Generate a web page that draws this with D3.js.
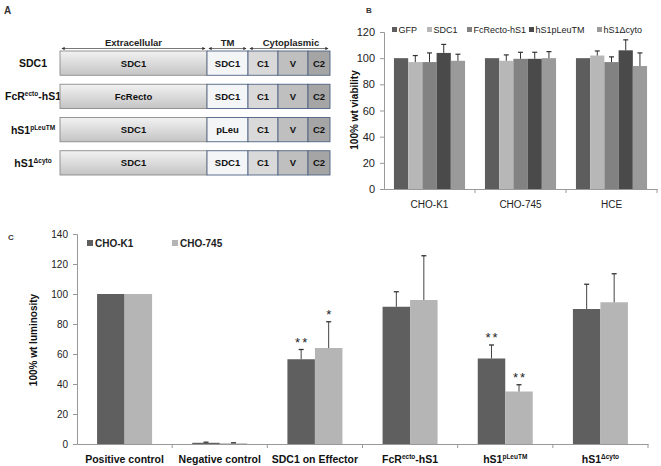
<!DOCTYPE html>
<html><head><meta charset="utf-8">
<script src="https://cdn.jsdelivr.net/npm/d3@7"></script>
<style>
html,body{margin:0;padding:0;background:#fff;}
text{font-family:"Liberation Sans",Arial,sans-serif;}
</style></head>
<body><svg id="fig" width="661" height="466"></svg>
<script>
// ---------- Panel A data ----------
const constructNames = ["SDC1", "FcR{ecto}-hS1", "hS1{pLeuTM}", "hS1{Δcyto}"];
const ectoLabels = ["SDC1", "FcRecto", "SDC1", "SDC1"];
const tmLabels = ["SDC1", "SDC1", "pLeu", "SDC1"];
const cytoLabels = ["C1", "V", "C2"];
const regionNames = ["Extracellular", "TM", "Cytoplasmic"];
const segmentUnits = [147, 41, 30, 30, 22]; // relative domain lengths: ecto, TM, C1, V, C2

// ---------- Panel B data ----------
const cellLinesB = ["CHO-K1", "CHO-745", "HCE"];
const seriesB = ["GFP", "SDC1", "FcRecto-hS1", "hS1pLeuTM", "hS1Δcyto"];
const valuesB = [
  [100, 97, 97, 104, 98],
  [100, 98, 99.5, 99.5, 100],
  [100, 102, 97, 106, 94]
];
const errorsB = [
  [0, 5, 7, 6.5, 5],
  [0, 4.5, 5, 5, 5],
  [0, 3.5, 4, 8, 10]
];
const ticksB = [0, 20, 40, 60, 80, 100, 120];

// ---------- Panel C data ----------
const categoriesC = ["Positive control", "Negative control", "SDC1 on Effector", "FcR{ecto}-hS1", "hS1{pLeuTM}", "hS1{Δcyto}"];
const seriesC = ["CHO-K1", "CHO-745"];
const valuesK1 = [100, 0.8, 56.5, 91.5, 57, 90];
const errorsK1 = [0, 0.4, 6.5, 10, 9, 16.5];
const values745 = [100, 0.5, 64, 96, 35, 94.5];
const errors745 = [0, 0.3, 17.5, 29.5, 4.5, 19];
const starsK1 = ["", "", "**", "", "**", ""];
const stars745 = ["", "", "*", "", "**", ""];
const ticksC = [0, 20, 40, 60, 80, 100, 120, 140];

const svg = d3.select("#fig");
const font = '"Liberation Sans",Arial,sans-serif';

// helper: text with {superscript}
function richText(sel, str, supSize) {
  const parts = str.split(/(\{[^}]*\})/).filter(s => s.length);
  parts.forEach(p => {
    if (p.startsWith("{")) {
      sel.append("tspan").attr("font-size", supSize).attr("dy", -4).text(p.slice(1, -1));
    } else {
      const t = sel.append("tspan").text(p);
      if (sel.selectAll("tspan").size() > 1) t.attr("dy", 4);
    }
  });
}

// ================= Panel A =================
{
  const g = svg.append("g");
  g.append("text").attr("x", 4).attr("y", 14).attr("font-size", 10).attr("font-weight", "bold").attr("fill", "#333").text("A");

  const cum = [0]; segmentUnits.forEach((u, i) => cum.push(cum[i] + u));
  const xA = d3.scaleLinear().domain([0, cum[cum.length - 1]]).range([60, 330]);
  const yA = d3.scaleBand().domain(constructNames).range([51, 175]).paddingInner(0.27).paddingOuter(0);

  const defs = svg.append("defs");
  const grad = defs.append("linearGradient").attr("id", "ectoGrad").attr("x1", 0).attr("y1", 0).attr("x2", 0).attr("y2", 1);
  grad.append("stop").attr("offset", "0%").attr("stop-color", "#f2f2f2");
  grad.append("stop").attr("offset", "100%").attr("stop-color", "#c4c4c4");
  const ag = defs.append("marker").attr("id", "arr").attr("viewBox", "0 0 6 6").attr("refX", 5).attr("refY", 3)
    .attr("markerWidth", 4).attr("markerHeight", 4).attr("orient", "auto-start-reverse");
  ag.append("path").attr("d", "M0,0 L6,3 L0,6 z").attr("fill", "#333");

  // region headers
  const regionSpans = [[cum[0], cum[1]], [cum[1], cum[2]], [cum[2], cum[5]]];
  regionSpans.forEach((s, i) => {
    const x0 = xA(s[0]) + 2, x1 = xA(s[1]) - 2;
    g.append("line").attr("x1", x0).attr("x2", x1).attr("y1", 48.5).attr("y2", 48.5)
      .attr("stroke", "#555").attr("stroke-width", 0.8)
      .attr("marker-start", "url(#arr)").attr("marker-end", "url(#arr)");
    g.append("text").attr("x", (x0 + x1) / 2 + (i === 2 ? 2 : 0)).attr("y", 45.5).attr("text-anchor", "middle")
      .attr("font-size", 9.5).attr("font-weight", "bold").attr("fill", "#222").text(regionNames[i]);
  });

  const segFills = ["url(#ectoGrad)", "#f3f5f7", "#d9d9d9", "#bfbfbf", "#a5a5a5"];
  constructNames.forEach((name, r) => {
    const y0 = yA(name), h = yA.bandwidth();
    const lab = g.append("text").attr("x", 33).attr("y", y0 + h / 2 + 4).attr("text-anchor", "middle")
      .attr("font-size", 10.5).attr("font-weight", "bold").attr("fill", "#111");
    richText(lab, name, 6.5);
    const labs = [ectoLabels[r], tmLabels[r]].concat(cytoLabels);
    for (let s = 0; s < 5; s++) {
      g.append("rect").attr("x", xA(cum[s])).attr("y", y0).attr("width", xA(cum[s + 1]) - xA(cum[s])).attr("height", h)
        .attr("fill", segFills[s]).attr("stroke", s === 0 ? "#8a8a8a" : "#4f6283").attr("stroke-width", 0.9);
      g.append("text").attr("x", (xA(cum[s]) + xA(cum[s + 1])) / 2).attr("y", y0 + h / 2 + 3.5)
        .attr("text-anchor", "middle").attr("font-size", 9.5).attr("font-weight", "bold").attr("fill", "#111").text(labs[s]);
    }
  });
}

// ================= Panel B =================
{
  const g = svg.append("g");
  g.append("text").attr("x", 366).attr("y", 13).attr("font-size", 8).attr("font-weight", "bold").attr("fill", "#333").text("B");
  const x0 = d3.scaleBand().domain(cellLinesB).range([384, 657]).padding(0);
  const x1 = d3.scaleBand().domain(seriesB).range([0, x0.bandwidth()]).paddingInner(0).paddingOuter(0.7);
  const y = d3.scaleLinear().domain([0, 120]).range([189, 32]);
  const colB = d3.scaleOrdinal().domain(seriesB).range(["#5d5d5d", "#b7b7b7", "#828282", "#4a4a4a", "#9a9a9a"]);

  const ya = g.append("g").attr("transform", "translate(384,0)")
    .call(d3.axisLeft(y).tickValues(ticksB).tickSize(4).tickPadding(5));
  ya.select(".domain").attr("stroke", "#999");
  ya.selectAll(".tick line").attr("stroke", "#999");
  ya.selectAll("text").attr("font-size", 11).attr("font-family", font).attr("fill", "#222");

  const xa = g.append("g").attr("transform", "translate(0,189)")
    .call(d3.axisBottom(x0).tickSize(0).tickPadding(12));
  xa.select(".domain").attr("stroke", "#999");
  xa.selectAll("text").attr("font-size", 10).attr("font-family", font).attr("fill", "#222");
  // category boundary ticks
  cellLinesB.forEach((c, i) => {
    const xb = x0(c) + x0.bandwidth();
    g.append("line").attr("x1", xb).attr("x2", xb).attr("y1", 189).attr("y2", 193).attr("stroke", "#999");
  });

  cellLinesB.forEach((c, ci) => {
    seriesB.forEach((s, si) => {
      const v = valuesB[ci][si], e = errorsB[ci][si];
      const bx = x0(c) + x1(s), bw = x1.bandwidth();
      g.append("rect").attr("x", bx).attr("y", y(v)).attr("width", bw).attr("height", y(0) - y(v)).attr("fill", colB(s));
      if (e > 0) {
        const cx = bx + bw / 2;
        g.append("line").attr("x1", cx).attr("x2", cx).attr("y1", y(v)).attr("y2", y(v + e)).attr("stroke", "#333").attr("stroke-width", 1);
        g.append("line").attr("x1", cx - 2.5).attr("x2", cx + 2.5).attr("y1", y(v + e)).attr("y2", y(v + e)).attr("stroke", "#333").attr("stroke-width", 1.2);
      }
    });
  });

  // legend
  const legX = [392, 427, 467, 529, 597];
  seriesB.forEach((s, i) => {
    g.append("rect").attr("x", legX[i]).attr("y", 27).attr("width", 5).attr("height", 5).attr("fill", colB(s));
    g.append("text").attr("x", legX[i] + 6.5).attr("y", 33).attr("font-size", 9).attr("fill", "#222").text(s);
  });

  g.append("text").attr("transform", "translate(358,110) rotate(-90)").attr("text-anchor", "middle")
    .attr("font-size", 10).attr("font-weight", "bold").attr("fill", "#111").text("100% wt viability");
}

// ================= Panel C =================
{
  const g = svg.append("g");
  g.append("text").attr("x", 8).attr("y", 240).attr("font-size", 8).attr("font-weight", "bold").attr("fill", "#333").text("C");
  const x0 = d3.scaleBand().domain(categoriesC).range([77, 648]).padding(0);
  const x1 = d3.scaleBand().domain(seriesC).range([0, x0.bandwidth()]).paddingInner(0).paddingOuter(0.73);
  const y = d3.scaleLinear().domain([0, 140]).range([444, 234]);
  const colC = d3.scaleOrdinal().domain(seriesC).range(["#5f5f5f", "#b5b5b5"]);

  const ya = g.append("g").attr("transform", "translate(77,0)")
    .call(d3.axisLeft(y).tickValues(ticksC).tickSize(4).tickPadding(5));
  ya.select(".domain").attr("stroke", "#999");
  ya.selectAll(".tick line").attr("stroke", "#999");
  ya.selectAll("text").attr("font-size", 10).attr("font-family", font).attr("fill", "#222");

  const xa = g.append("g").attr("transform", "translate(0,444)")
    .call(d3.axisBottom(x0).tickSize(0).tickPadding(10).tickFormat(""));
  xa.select(".domain").attr("stroke", "#999");
  categoriesC.forEach((c, i) => {
    const xb = x0(c) + x0.bandwidth();
    g.append("line").attr("x1", xb).attr("x2", xb).attr("y1", 444).attr("y2", 448).attr("stroke", "#999");
    const t = g.append("text").attr("x", x0(c) + x0.bandwidth() / 2).attr("y", 463).attr("text-anchor", "middle")
      .attr("font-size", 10.5).attr("font-weight", "bold").attr("fill", "#111");
    richText(t, c, 6.5);
  });

  const vals = [valuesK1, values745], errs = [errorsK1, errors745], stars = [starsK1, stars745];
  categoriesC.forEach((c, ci) => {
    seriesC.forEach((s, si) => {
      const v = vals[si][ci], e = errs[si][ci];
      const bx = x0(c) + x1(s), bw = x1.bandwidth();
      g.append("rect").attr("x", bx).attr("y", y(v)).attr("width", bw).attr("height", y(0) - y(v)).attr("fill", colC(s));
      const cx = bx + bw / 2;
      if (e > 0) {
        g.append("line").attr("x1", cx).attr("x2", cx).attr("y1", y(v)).attr("y2", y(v + e)).attr("stroke", "#444").attr("stroke-width", 1);
        g.append("line").attr("x1", cx - 2.5).attr("x2", cx + 2.5).attr("y1", y(v + e)).attr("y2", y(v + e)).attr("stroke", "#333").attr("stroke-width", 1.3);
      }
      if (stars[si][ci]) {
        g.append("text").attr("x", cx + 1).attr("y", y(v + e) - 3).attr("text-anchor", "middle")
          .attr("font-size", 13).attr("letter-spacing", 2).attr("fill", "#222").text(stars[si][ci]);
      }
    });
  });

  // legend
  const legX = [87, 172];
  seriesC.forEach((s, i) => {
    g.append("rect").attr("x", legX[i]).attr("y", 240).attr("width", 6).attr("height", 6).attr("fill", colC(s));
    g.append("text").attr("x", legX[i] + 8).attr("y", 246.5).attr("font-size", 10).attr("font-weight", "bold").attr("fill", "#222").text(s);
  });

  g.append("text").attr("transform", "translate(37,340) rotate(-90)").attr("text-anchor", "middle")
    .attr("font-size", 10).attr("font-weight", "bold").attr("fill", "#111").text("100% wt luminosity");
}
</script></body></html>
